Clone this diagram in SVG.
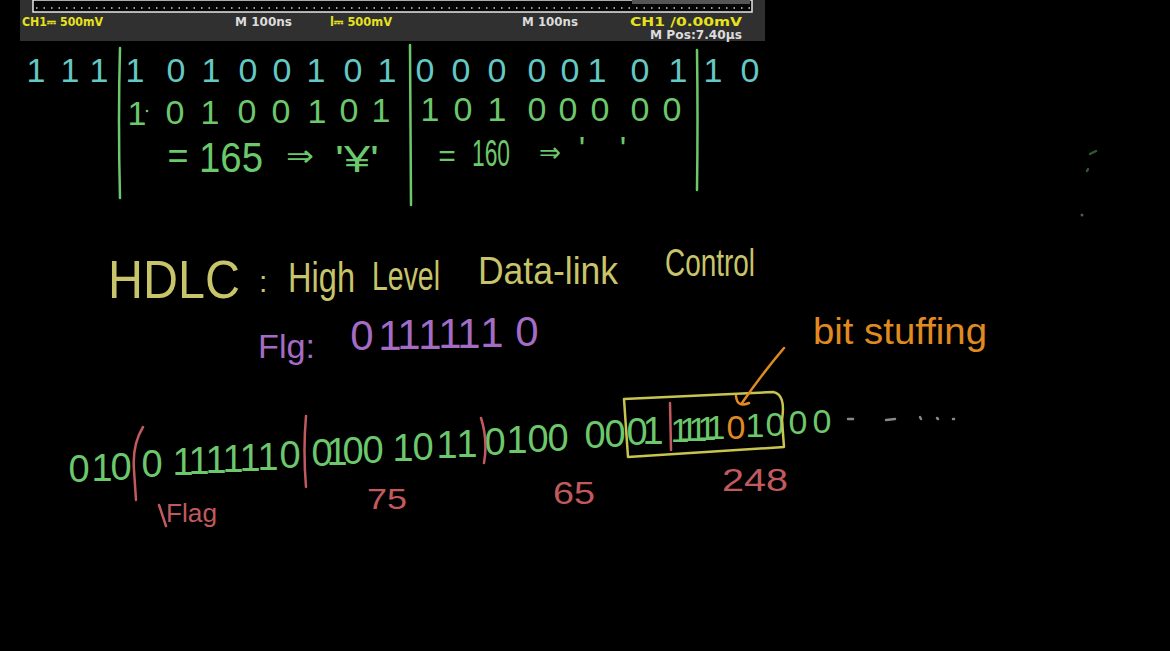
<svg xmlns="http://www.w3.org/2000/svg" width="1170" height="651" viewBox="0 0 1170 651">
<defs>
<style>
.hand{font-family:"Liberation Sans","DejaVu Sans",sans-serif;font-weight:normal}
.scope{font-family:"DejaVu Sans","Liberation Sans",sans-serif;font-size:12px;font-weight:bold}
.y{fill:#e6e21e}.w{fill:#dcdcdc}
.cyan{fill:#64c8c4}.grn{fill:#6cc86c}.yel{fill:#c8c46a}.pur{fill:#a46cc4}.red{fill:#c05a5e}.org{fill:#e08a22}
.ln{fill:none;stroke-width:2.5;stroke-linecap:round;stroke-linejoin:round}
.bits{font-size:38px}
</style>
</defs>
<rect width="1170" height="651" fill="#000"/>

<g id="scope">
<rect x="20" y="0" width="745" height="41" fill="#303030"/>
<rect x="33" y="0" width="719" height="12" fill="#050505" stroke="#e6e6e6" stroke-width="1.5"/>
<line x1="36" y1="8" x2="750" y2="8" stroke="#cfcfcf" stroke-width="1.5" stroke-dasharray="1.5 6"/>
<rect x="632" y="0" width="118" height="4" fill="#555"/>
<text class="scope y" x="22" y="26" textLength="81" lengthAdjust="spacingAndGlyphs">CH1⎓ 500mV</text>
<text class="scope w" x="235" y="26" textLength="57" lengthAdjust="spacingAndGlyphs">M 100ns</text>
<text class="scope y" x="330" y="26" textLength="62" lengthAdjust="spacingAndGlyphs">l⎓ 500mV</text>
<text class="scope w" x="522" y="26" textLength="56" lengthAdjust="spacingAndGlyphs">M 100ns</text>
<text class="scope y" x="630" y="26" textLength="112" lengthAdjust="spacingAndGlyphs">CH1 /0.00mV</text>
<text class="scope w" x="650" y="39" textLength="92" lengthAdjust="spacingAndGlyphs">M Pos:7.40µs</text>
</g>

<g id="byte-table">
<text class="hand cyan" font-size="34" text-anchor="middle" x="36 70 99 135 176 211 248 282 316 353 387 425 461 497 537 570 597 640 678 713 750" y="82">111101001010000010110</text>
<text class="hand grn" font-size="34" text-anchor="middle" x="137 175 210 247 281 317 349 381" y="125 124 124 123 123 123 122 122">10100101</text>
<circle cx="147" cy="111" r="1.3" fill="#6cc86c"/>
<text class="hand grn" font-size="34" text-anchor="middle" x="430 463 497 537 568 600 640 672" y="121">10100000</text>
<text class="hand grn" font-size="36" text-anchor="middle" x="178" y="168">=</text>
<text class="hand grn" font-size="42" x="199" y="172" textLength="64" lengthAdjust="spacingAndGlyphs">165</text>
<text class="hand grn" font-size="30" x="286" y="166" textLength="28" lengthAdjust="spacingAndGlyphs">⇒</text>
<text class="hand grn" font-size="36" x="335" y="172" textLength="44" lengthAdjust="spacingAndGlyphs">'¥'</text>
<text class="hand grn" font-size="30" text-anchor="middle" x="447" y="166">=</text>
<text class="hand grn" font-size="36" x="472" y="166" textLength="38" lengthAdjust="spacingAndGlyphs">160</text>
<text class="hand grn" font-size="28" x="539" y="162" textLength="22" lengthAdjust="spacingAndGlyphs">⇒</text>
<text class="hand grn" font-size="34" text-anchor="middle" x="582 623" y="160">''</text>
<path class="ln" stroke="#6cc86c" d="M120,48 Q118,120 120,198 M410,45 L411,205 M697,50 Q698,120 697,190"/>
</g>

<g id="title">
<text class="hand yel" font-size="54" x="108" y="298" textLength="132" lengthAdjust="spacingAndGlyphs">HDLC</text>
<text class="hand yel" font-size="30" x="259" y="292">:</text>
<text class="hand yel" font-size="42" x="288" y="292" textLength="67" lengthAdjust="spacingAndGlyphs">High</text>
<text class="hand yel" font-size="40" x="372" y="290" textLength="68" lengthAdjust="spacingAndGlyphs">Level</text>
<text class="hand yel" font-size="38" x="478" y="284" textLength="140" lengthAdjust="spacingAndGlyphs">Data-link</text>
<text class="hand yel" font-size="38" x="665" y="276" textLength="90" lengthAdjust="spacingAndGlyphs">Control</text>
</g>

<g id="flag">
<text class="hand pur" font-size="34" x="258" y="358" textLength="57" lengthAdjust="spacingAndGlyphs">Flg:</text>
<text class="hand pur" font-size="42" text-anchor="middle" x="362 390 409 430 450 469 492 527" y="350 350 349 349 348 348 347 346">01111110</text>
</g>

<g id="bit-stuffing-label">
<text class="hand org" font-size="36" x="813" y="344" textLength="174" lengthAdjust="spacingAndGlyphs">bit stuffing</text>
</g>

<g id="bit-stream">
<text class="hand grn bits" text-anchor="middle" x="79 102 121 152 183 199 216 233 250 268 290" y="482 481 480 477 475 474 473 472 471 470 468">01001111110</text>
<text class="hand grn bits" text-anchor="middle" x="322 337 353 373 403 423 447 467" y="466 465 464 463 461 460 458 457">01001011</text>
<text class="hand grn bits" text-anchor="middle" x="495 517 538 558 595 615 637 653" y="455 453 452 451 448 447 445 444">01000001</text>
<text class="hand grn" font-size="34" text-anchor="middle" x="680 689 698 707 716 736 755 775 798 822" y="442 441 441 440 439 439 437 436 434 433">11111<tspan class="org">0</tspan>1000</text>
<path class="ln" stroke="#c05a5e" d="M143,427 Q132,445 134,470 L136,500 M306,416 Q303,450 306,487 M481,418 Q488,440 484,463 M670,403 L671,450"/>
<path class="ln" stroke="#c8c450" d="M624,399 L773,392 Q786,394 782,420 L784,447 L628,457 Z"/>
<path class="ln" stroke="#e08a22" d="M784,348 Q762,374 742,403 M736,396 Q737,408 749,403"/>
<path class="ln" stroke="#888" stroke-width="2" d="M848,419 L853,419 M886,420 L895,419 M920,417 L921,419 M937,418 L938,419 M953,419 L954,419"/>
</g>

<g id="byte-labels">
<path class="ln" stroke="#c05a5e" d="M159,505 L166,526"/>
<text class="hand red" font-size="26" x="166" y="522" textLength="51" lengthAdjust="spacingAndGlyphs">Flag</text>
<text class="hand red" font-size="30" x="367" y="509" textLength="40" lengthAdjust="spacingAndGlyphs">75</text>
<text class="hand red" font-size="32" x="553" y="504" textLength="42" lengthAdjust="spacingAndGlyphs">65</text>
<text class="hand red" font-size="32" x="722" y="491" textLength="66" lengthAdjust="spacingAndGlyphs">248</text>
</g>

<g id="specks">
<path class="ln" stroke="#2f5a2f" stroke-width="2" d="M1090,154 L1096,151 M1087,171 L1088,169"/>
<circle cx="1082" cy="215" r="1.5" fill="#555"/>
</g>
</svg>
